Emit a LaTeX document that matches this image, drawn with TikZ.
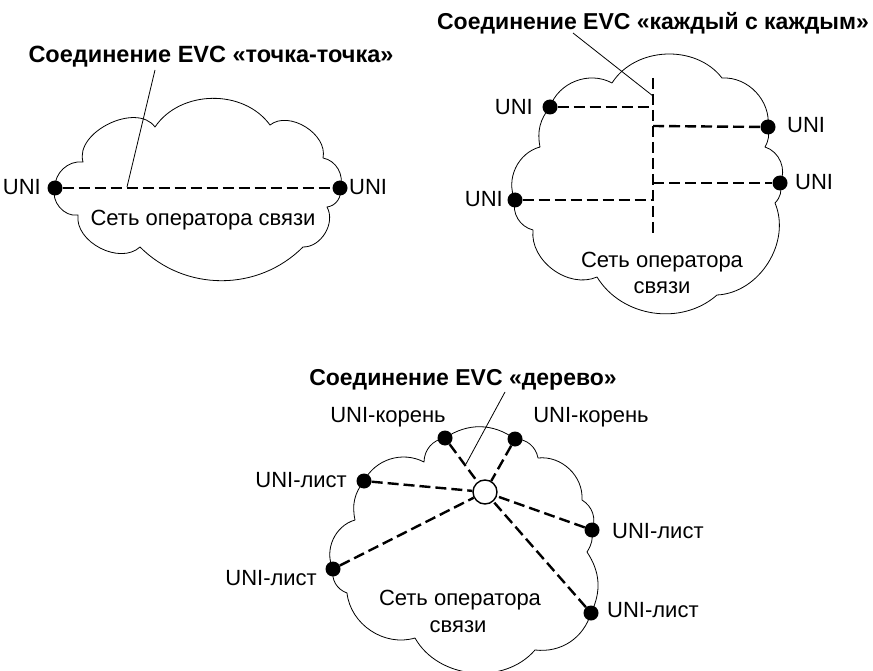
\documentclass[tikz,border=0pt]{standalone}
\usepackage{fontspec}
\setmainfont{Liberation Sans}
\begin{document}
\begin{tikzpicture}[x=1pt,y=-1pt,
  cloud/.style={line width=0.8pt, line join=round},
  evc/.style={line width=2.4pt, dash pattern=on 11pt off 5pt},
  leader/.style={line width=0.8pt},
  dot/.style={circle, fill=black, inner sep=0pt, minimum size=15pt},
  lbl/.style={inner sep=0pt, font=\fontsize{22}{26}\selectfont},
  ttl/.style={inner sep=0pt, font=\fontsize{23}{27}\selectfont\bfseries},
  hub/.style={circle, draw, fill=white, line width=1.4pt, minimum size=24pt, inner sep=0pt}]
\useasboundingbox (0,0) rectangle (873,671);

% ---------- cloud 1 ----------
\draw[cloud] (55,188) to[bend left=50] (83,162) to[bend left=80] (155,127)
  to[bend left=55] (270,125) to[bend left=70] (323,158) to[bend left=50] (340,188)
  to[bend left=50] (327,207) to[bend left=60] (303,247) to[bend left=45] (140,247)
  to[bend left=70] (78,215) to[bend left=60] (55,188) -- cycle;
\node[dot] (p1l) at (55,188) {};
\node[dot] (p1r) at (340,188) {};
\draw[evc] (p1l) -- (p1r);
\node[lbl, anchor=base east] (u1l) at (41,195) {UNI};
\node[lbl, anchor=base west] (u1r) at (349,195) {UNI};
\node[ttl, anchor=base, font=\fontsize{23.5}{27}\selectfont\bfseries] (t1) at (211,63) {Соединение EVC «точка-точка»};
\coordinate (t1a) at (155,70);
\coordinate (t1b) at (127,187);
\draw[leader] (t1a) -- (t1b);
\node[lbl, anchor=base] (n1) at (203,226) {Сеть оператора связи};

% ---------- cloud 2 ----------
\draw[cloud] (550,107) to[bend left=50] (612,83) to[bend left=55] (722,78)
  to[bend left=50] (768,127) to[bend left=20] (765,147) to[bend left=50] (780,183)
  to[bend left=30] (775,203) to[bend left=55] (717,295) to[bend left=50] (597,277)
  to[bend left=60] (533,230) to[bend left=45] (515,200) to[bend left=50] (540,147)
  to[bend left=25] (550,107) -- cycle;
\node[dot] (m1) at (550,107) {};
\node[dot] (m2) at (768,127) {};
\node[dot] (m3) at (780,183) {};
\node[dot] (m4) at (515,200) {};
\coordinate (vtop) at (653,78);
\coordinate (vbot) at (653,238);
\coordinate (j1) at (653,107);
\coordinate (j2) at (653,126);
\coordinate (j3) at (653,183);
\coordinate (j4) at (653,200);
\draw[evc] (vtop) -- (vbot);
\draw[evc] (m1) -- (j1);
\draw[evc] (j2) -- (m2);
\draw[evc] (j3) -- (m3);
\draw[evc] (m4) -- (j4);
\node[lbl, anchor=base east] (u21) at (533,115) {UNI};
\node[lbl, anchor=base west] (u22) at (787,133) {UNI};
\node[lbl, anchor=base west] (u23) at (795,190) {UNI};
\node[lbl, anchor=base east] (u24) at (503,207) {UNI};
\node[ttl, anchor=base] (t2) at (653,30) {Соединение EVC «каждый с каждым»};
\coordinate (t2a) at (573,33);
\coordinate (t2b) at (653,96);
\draw[leader] (t2a) -- (t2b);
\node[lbl, anchor=base] (n2a) at (662,268) {Сеть оператора};
\node[lbl, anchor=base] (n2b) at (662,293) {связи};

% ---------- cloud 3 ----------
\draw[cloud] (445,438) to[bend left=35] (515,439) to[bend left=40] (538,458)
  to[bend left=50] (582,500) to[bend left=40] (592,530) to[bend left=20] (587,552)
  to[bend left=30] (591,613) to[bend left=40] (535,650) to[bend left=55] (415,638)
  to[bend left=50] (347,593) to[bend left=40] (333,569) to[bend left=50] (355,520)
  to[bend left=25] (364,481) to[bend left=45] (424,462) to[bend left=40] (445,438) -- cycle;
\node[dot] (r1) at (445,438) {};
\node[dot] (r2) at (515,439) {};
\node[dot] (l1) at (364,481) {};
\node[dot] (l2) at (333,569) {};
\node[dot] (l3) at (592,530) {};
\node[dot] (l4) at (591,613) {};
\node[hub] (hub) at (485,492) {};
\draw[evc] (r1) -- (hub);
\draw[evc] (r2) -- (hub);
\draw[evc] (l1) -- (hub);
\draw[evc] (l2) -- (hub);
\draw[evc] (l3) -- (hub);
\draw[evc] (l4) -- (hub);
\node[ttl, anchor=base] (t3) at (463,385) {Соединение EVC «дерево»};
\coordinate (t3a) at (505,392);
\coordinate (t3b) at (466,464);
\draw[leader] (t3a) -- (t3b);
\node[lbl, anchor=base] (k1) at (388,422) {UNI-корень};
\node[lbl, anchor=base] (k2) at (591,422) {UNI-корень};
\node[lbl, anchor=base east] (s1) at (347,487) {UNI-лист};
\node[lbl, anchor=base east] (s2) at (317,585) {UNI-лист};
\node[lbl, anchor=base west] (s3) at (612,538) {UNI-лист};
\node[lbl, anchor=base west] (s4) at (607,617) {UNI-лист};
\node[lbl, anchor=base] (n3a) at (460,605) {Сеть оператора};
\node[lbl, anchor=base] (n3b) at (458,632) {связи};
\end{tikzpicture}
\end{document}
